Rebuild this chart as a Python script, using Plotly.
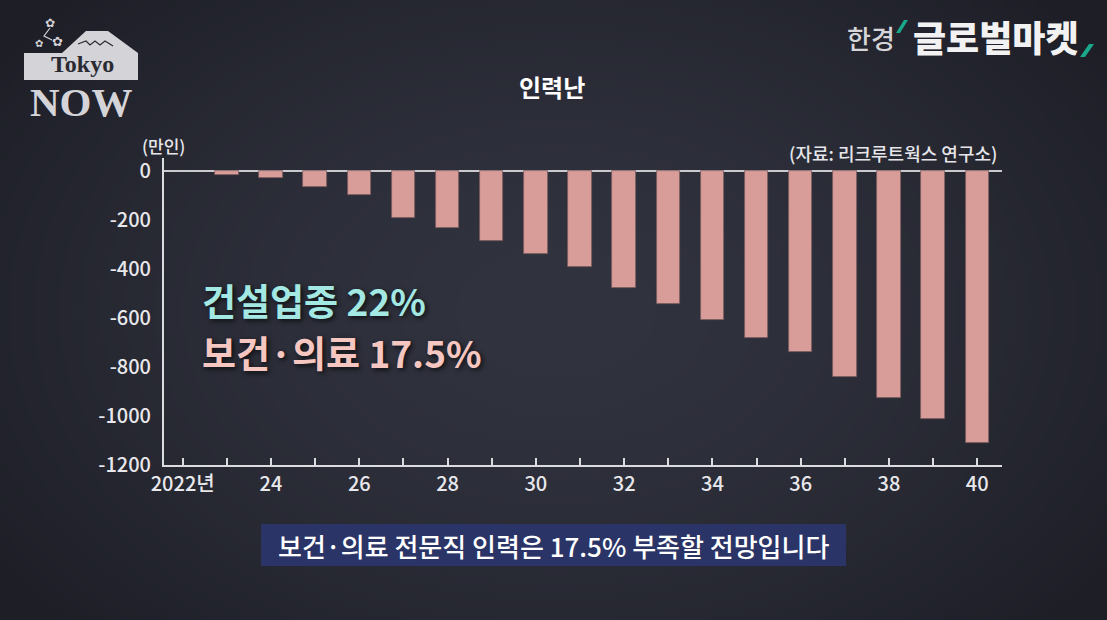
import base64, struct, zlib
import numpy as np
import plotly.graph_objects as go

# ---------------- data ----------------
years = list(range(2023, 2041))
shortage = [-18, -27, -67, -99, -192, -234, -287, -338, -393,
            -479, -543, -607, -682, -739, -841, -925, -1011, -1109]
tick_years = list(range(2022, 2041))
tick_text = ["2022년" if y == 2022 else (str(y)[2:] if y % 2 == 0 else "") for y in tick_years]
y_ticks = [0, -200, -400, -600, -800, -1000, -1200]
y_tick_text = ["0", "-200", "-400", "-600", "-800", "-1000", "-1200"]

W, H = 1107, 620
L, R, T, B = 164, 1002, 158, 465  # plot area in pixels

def px(x):
    return (x - L) / (R - L)

def py(y):
    return (B - y) / (B - T)

def path(points, close=True):
    s = "M " + " L ".join(f"{px(x):.5f},{py(y):.5f}" for x, y in points)
    return s + (" Z" if close else "")

# ---------- background gradient (radial vignette) ----------
def png_data_uri(arr):
    h, w, _ = arr.shape
    raw = b"".join(b"\x00" + arr[r].tobytes() for r in range(h))
    def chunk(t, d):
        c = struct.pack(">I", len(d)) + t + d
        return c + struct.pack(">I", zlib.crc32(t + d) & 0xffffffff)
    png = b"\x89PNG\r\n\x1a\n" + chunk(b"IHDR", struct.pack(">IIBBBBB", w, h, 8, 2, 0, 0, 0)) \
        + chunk(b"IDAT", zlib.compress(raw, 9)) + chunk(b"IEND", b"")
    return "data:image/png;base64," + base64.b64encode(png).decode()

gw, gh = 277, 155
yy, xx = np.mgrid[0:gh, 0:gw]
d = np.sqrt(((xx / gw - 0.5) / 0.62) ** 2 + ((yy / gh - 0.5) / 0.75) ** 2)
d = np.clip(d, 0, 1)
c_in = np.array([49, 51, 63], float)
c_out = np.array([29, 30, 38], float)
img = (c_in[None, None, :] * (1 - d[..., None] ** 1.6) + c_out[None, None, :] * (d[..., None] ** 1.6))
bg_uri = png_data_uri(img.astype(np.uint8))

fig = go.Figure()
fig.add_trace(go.Bar(
    x=years, y=shortage, width=0.53,
    marker=dict(color="#d89c99", line=dict(color="#7b5c5f", width=0.8)),
    hoverinfo="x+y",
))

KR = "Noto Sans CJK KR"
anns = []
def txt(x, y, s, size, color, weight=None, family=KR, xanchor="center", shadow=None):
    f = dict(family=family, size=size, color=color)
    if weight:
        f["weight"] = weight
    if shadow:
        f["shadow"] = shadow
    anns.append(dict(x=px(x), y=py(y), xref="paper", yref="paper", text=s, showarrow=False,
                     xanchor=xanchor, yanchor="middle", font=f))

txt(552, 87, "인력난", 24, "#ffffff", weight="bold")
txt(163, 145, "(만인)", 17, "#e6e6ea", weight=500)
txt(999, 153, "(자료: 리크루트웍스 연구소)", 18, "#e6e6ea", weight=500, xanchor="right")
txt(200, 300, "건설업종 22%", 37, "#a3e8e2", weight="bold", xanchor="left",
    shadow="2px 2px 5px rgba(0,0,0,0.7)")
txt(200, 352, "보건·의료 17.5%", 37, "#f6c6c1", weight="bold", xanchor="left",
    shadow="2px 2px 5px rgba(0,0,0,0.7)")
txt(553, 545, "보건·의료 전문직 인력은 17.5% 부족할 전망입니다", 26, "#ffffff", weight=500)

# top-right logo
txt(871, 37, "한경", 26, "#d6d6d9", weight=500)
txt(996, 36, "글로벌마켓", 36, "#f2f2f2", weight=900)
# Tokyo NOW logo
txt(82, 64, "Tokyo", 24, "#2a2a33", weight="bold", family="Liberation Serif")
txt(81, 102, "NOW", 41, "#d4d4d8", weight="bold", family="Liberation Serif")
txt(50, 23, "✿", 12, "#d4d4d8", family="DejaVu Sans")
txt(39, 43, "✿", 10, "#d4d4d8", family="DejaVu Sans")
txt(57, 41, "✿", 13, "#d4d4d8", family="DejaVu Sans")

shapes = [
    # caption box
    dict(type="rect", xref="paper", yref="paper", x0=px(261), x1=px(846), y0=py(524), y1=py(566),
         fillcolor="#2b3466", line=dict(width=0), layer="below"),
    # mountain + banner
    dict(type="path", xref="paper", yref="paper",
         path=path([(24, 80), (24, 53), (62, 53), (86, 31), (108, 31), (138, 53), (138, 80)]),
         fillcolor="#d4d4d8", line=dict(width=0)),
    dict(type="path", xref="paper", yref="paper",
         path=path([(78, 44), (86, 41), (90, 45), (95, 41), (100, 45), (105, 41), (113, 46)], close=False),
         line=dict(color="#2a2a33", width=1.2)),
    # branch of the blossoms
    dict(type="path", xref="paper", yref="paper",
         path=path([(50, 28), (44, 36), (52, 40)], close=False),
         line=dict(color="#d4d4d8", width=1.2)),
    # green slashes
    dict(type="path", xref="paper", yref="paper",
         path=path([(896, 33), (900, 33), (908, 20), (904, 20)]),
         fillcolor="#1aa88a", line=dict(width=0)),
    dict(type="path", xref="paper", yref="paper",
         path=path([(1080, 57), (1085, 57), (1094, 44), (1089, 44)]),
         fillcolor="#1aa88a", line=dict(width=0)),
]

fig.update_layout(
    width=W, height=H,
    margin=dict(l=L, r=W - R, t=T, b=H - B, pad=0),
    paper_bgcolor="#262732", plot_bgcolor="rgba(0,0,0,0)",
    showlegend=False, bargap=0,
    annotations=anns, shapes=shapes,
    images=[dict(source=bg_uri, xref="paper", yref="paper", x=px(0), y=py(0),
                 sizex=px(W) - px(0), sizey=py(0) - py(H), sizing="stretch",
                 xanchor="left", yanchor="top", layer="below")],
    font=dict(family=KR, color="#e8e8ec"),
)
fig.update_xaxes(
    range=[2021.576, 2040.56], tickmode="array", tickvals=tick_years, ticktext=tick_text,
    ticks="inside", ticklen=7, tickwidth=1.5, tickcolor="#dcdce0",
    showline=True, linecolor="#dcdce0", linewidth=2, showgrid=False, zeroline=False,
    tickfont=dict(size=20, color="#e8e8ec", weight=500), fixedrange=True,
)
fig.update_yaxes(
    range=[-1200, 53], tickmode="array", tickvals=y_ticks, ticktext=y_tick_text,
    ticks="", showline=True, linecolor="#dcdce0", linewidth=2, showgrid=False,
    zeroline=True, zerolinecolor="#c9c9ce", zerolinewidth=2,
    tickfont=dict(size=20, color="#e8e8ec", weight=500), ticklabelstandoff=7, fixedrange=True,
)

fig.write_html("out.html", config={"displayModeBar": False},
               post_script="document.body.style.margin='0';document.body.style.padding='0';"
                           "document.body.style.overflow='hidden';")
